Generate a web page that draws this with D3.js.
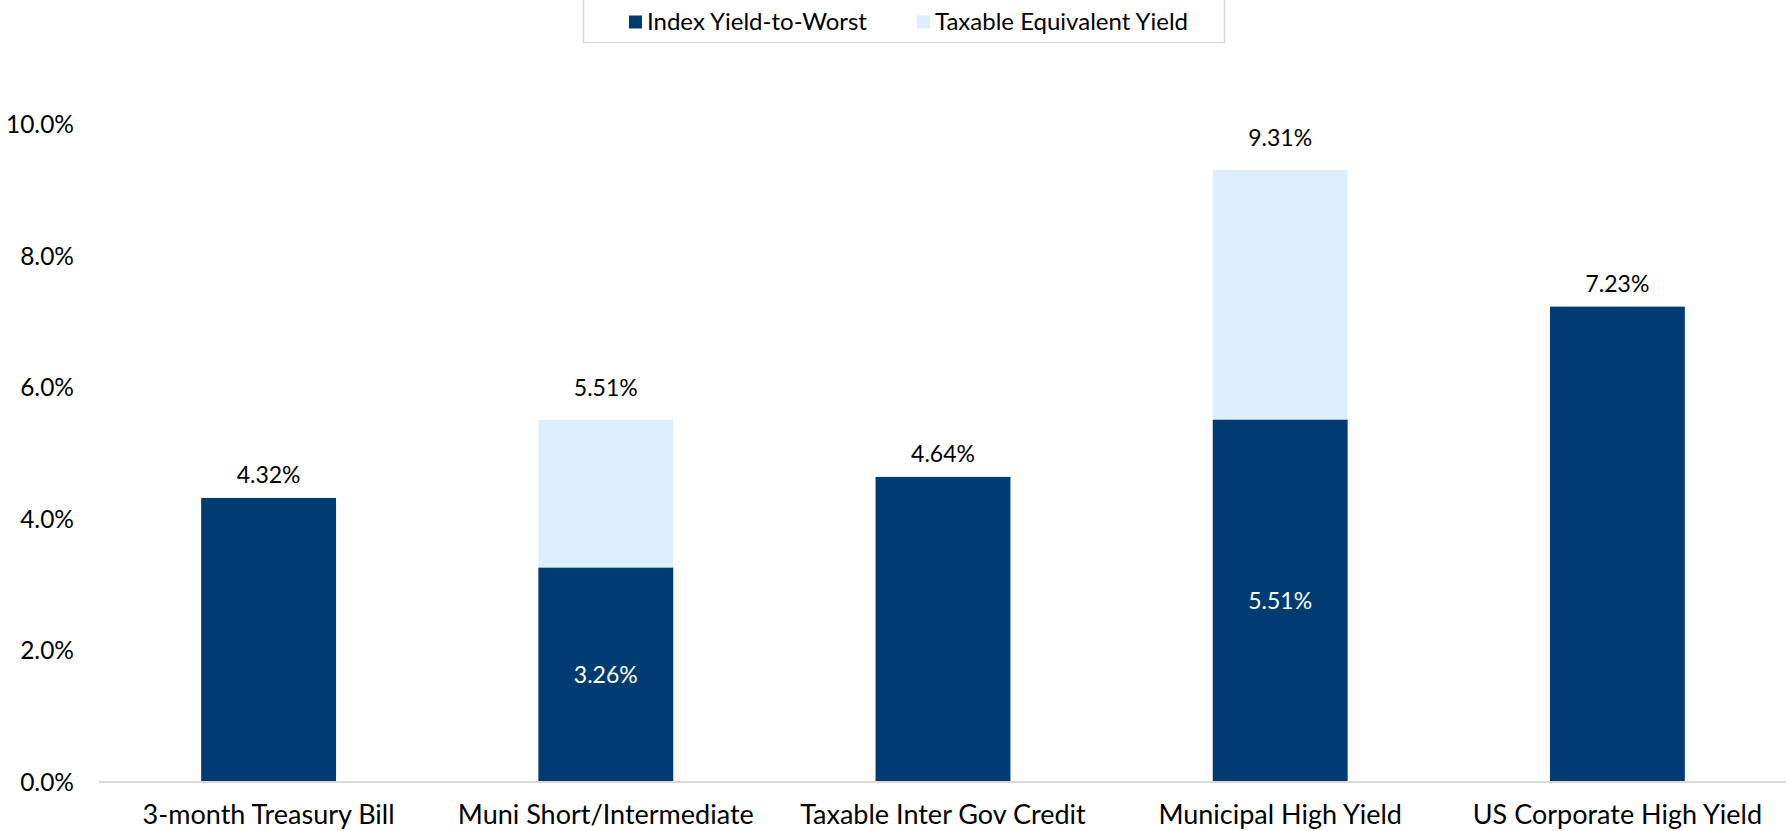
<!DOCTYPE html>
<html>
<head>
<meta charset="utf-8">
<script src="https://cdn.jsdelivr.net/npm/d3@7"></script>
<style>
  html, body { margin: 0; padding: 0; background: #fff; }
  svg { display: block; font-family: Lato, "Open Sans", sans-serif; }
</style>
</head>
<body>
<svg id="chart" width="1786" height="831"></svg>
<script>
const categories = [
  "3-month Treasury Bill",
  "Muni Short/Intermediate",
  "Taxable Inter Gov Credit",
  "Municipal High Yield",
  "US Corporate High Yield",
];
// index yield-to-worst (dark bars)
const yieldToWorst = [4.32, 3.26, 4.64, 5.51, 7.23];
// taxable equivalent yield (total height of light bar), null where n/a
const taxableEquivalent = [null, 5.51, null, 9.31, null];
const yTicks = [0, 2, 4, 6, 8, 10];
const seriesNames = ["Index Yield-to-Worst", "Taxable Equivalent Yield"];

const dark = "#003c71";
const light = "#ddeefd";
const width = 1786, height = 831;
const margin = { top: 124.5, right: 0, bottom: 49, left: 100 };

const svg = d3.select("#chart");

const x = d3.scaleBand()
  .domain(categories)
  .range([margin.left, width - margin.right])
  .paddingInner(0.6)
  .paddingOuter(0.3);

const y = d3.scaleLinear()
  .domain([0, 10])
  .range([height - margin.bottom, margin.top]);

const rows = categories.map((c, i) => ({
  cat: c,
  ytw: yieldToWorst[i],
  tey: taxableEquivalent[i],
}));

// light segment (taxable equivalent stacked on top of yield-to-worst)
svg.append("g")
  .selectAll("rect")
  .data(rows.filter((d) => d.tey != null))
  .join("rect")
  .attr("x", (d) => x(d.cat))
  .attr("width", x.bandwidth())
  .attr("y", (d) => y(d.tey))
  .attr("height", (d) => y(d.ytw) - y(d.tey))
  .attr("fill", light);

svg.append("g")
  .selectAll("rect")
  .data(rows)
  .join("rect")
  .attr("x", (d) => x(d.cat))
  .attr("width", x.bandwidth())
  .attr("y", (d) => y(d.ytw))
  .attr("height", (d) => y(0) - y(d.ytw))
  .attr("fill", dark);

// baseline
svg.append("line")
  .attr("x1", margin.left - 1)
  .attr("x2", width)
  .attr("y1", y(0))
  .attr("y2", y(0))
  .attr("stroke", "#d9d9d9")
  .attr("stroke-width", 2);

// y tick labels
svg.append("g")
  .selectAll("text")
  .data(yTicks)
  .join("text")
  .attr("x", 74)
  .attr("y", (d) => y(d))
  .attr("dy", "0.35em")
  .attr("text-anchor", "end")
  .attr("font-size", 24.5)
  .attr("fill", "#000")
  .text((d) => d.toFixed(1) + "%");

// category labels
svg.append("g")
  .selectAll("text")
  .data(categories)
  .join("text")
  .attr("x", (d) => x(d) + x.bandwidth() / 2)
  .attr("y", 823.5)
  .attr("text-anchor", "middle")
  .attr("font-size", 27)
  .attr("fill", "#000")
  .text((d) => d);

const fmt = (v) => v.toFixed(2) + "%";
const labels = svg.append("g").attr("font-size", 23).attr("text-anchor", "middle");

// labels for the dark bars: inside (white) when stacked, above otherwise
labels.selectAll("text.ytw")
  .data(rows)
  .join("text")
  .attr("class", "ytw")
  .attr("x", (d) => x(d.cat) + x.bandwidth() / 2)
  .attr("y", (d) => d.tey != null ? (y(d.ytw) + y(0)) / 2 : y(d.ytw) - 23)
  .attr("dy", "0.35em")
  .attr("fill", (d) => d.tey != null ? "#fff" : "#000")
  .text((d) => fmt(d.ytw));

labels.selectAll("text.tey")
  .data(rows.filter((d) => d.tey != null))
  .join("text")
  .attr("class", "tey")
  .attr("x", (d) => x(d.cat) + x.bandwidth() / 2)
  .attr("y", (d) => y(d.tey) - 32)
  .attr("dy", "0.35em")
  .attr("fill", "#000")
  .text((d) => fmt(d.tey));

// legend
const legend = svg.append("g");
legend.append("rect")
  .attr("x", 583.5)
  .attr("y", -1)
  .attr("width", 641)
  .attr("height", 43.5)
  .attr("fill", "#fff")
  .attr("stroke", "#d9d9d9")
  .attr("stroke-width", 1.5);

const legendX = [629, 917];
const legendItems = legend.selectAll("g.item")
  .data(seriesNames)
  .join("g")
  .attr("class", "item")
  .attr("transform", (d, i) => `translate(${legendX[i]},22)`);

legendItems.append("rect")
  .attr("x", 0)
  .attr("y", -6.5)
  .attr("width", 13)
  .attr("height", 13)
  .attr("fill", (d, i) => i === 0 ? dark : light);

legendItems.append("text")
  .attr("x", 18)
  .attr("dy", "0.35em")
  .attr("font-size", 24)
  .attr("fill", "#000")
  .text((d) => d);
</script>
</body>
</html>
